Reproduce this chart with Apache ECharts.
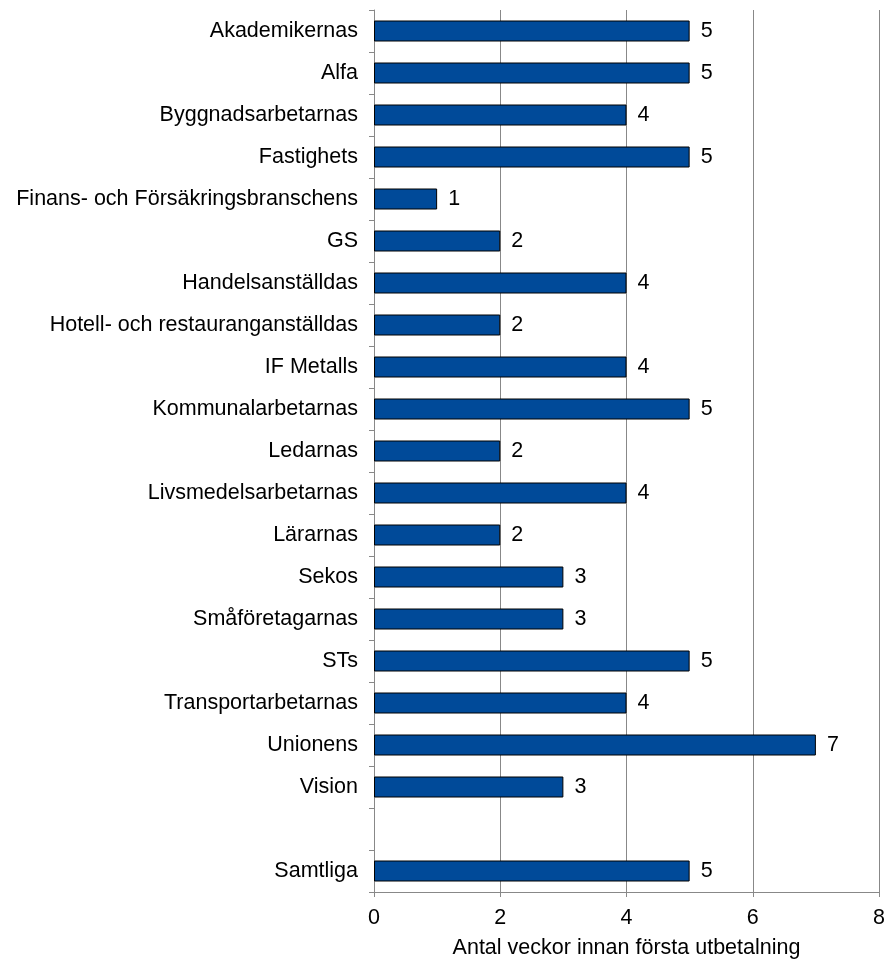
<!DOCTYPE html>
<html><head><meta charset="utf-8">
<script src="https://cdn.jsdelivr.net/npm/echarts@6/dist/echarts.min.js"></script>
<style>html,body{margin:0;padding:0;background:#fff}#c{width:885px;height:960px}</style>
</head><body><div id="c"></div>
<script>
const categories = ["Akademikernas","Alfa","Byggnadsarbetarnas","Fastighets","Finans- och Försäkringsbranschens","GS","Handelsanställdas","Hotell- och restauranganställdas","IF Metalls","Kommunalarbetarnas","Ledarnas","Livsmedelsarbetarnas","Lärarnas","Sekos","Småföretagarnas","STs","Transportarbetarnas","Unionens","Vision","","Samtliga"];
const values = [5,5,4,5,1,2,4,2,4,5,2,4,2,3,3,5,4,7,3,null,5];
const xTicks = {min:0, max:8, interval:2};
const xName = "Antal veckor innan första utbetalning";

const FS = 21.5;
const chart = echarts.init(document.getElementById('c'));
chart.setOption({
  animation:false,
  textStyle:{fontFamily:'Liberation Sans, Arial, sans-serif'},
  grid:{left:374,right:6,top:10,bottom:68,containLabel:false,outerBoundsMode:'none'},
  xAxis:{type:'value',min:xTicks.min,max:xTicks.max,interval:xTicks.interval,
    name:xName,nameLocation:'middle',nameGap:45,
    nameTextStyle:{fontSize:FS,color:'#000',fontFamily:'Liberation Sans, Arial, sans-serif'},
    axisLine:{show:true,lineStyle:{color:'#888',width:1}},
    axisTick:{show:true,length:5,lineStyle:{color:'#888'}},
    axisLabel:{fontSize:FS,color:'#000',margin:15},
    splitLine:{show:true,lineStyle:{color:'#888',width:1}}},
  yAxis:{type:'category',data:categories,inverse:true,
    axisLine:{show:true,lineStyle:{color:'#888',width:1}},
    axisTick:{show:true,length:5,lineStyle:{color:'#888'}},
    axisLabel:{fontSize:FS,color:'#000',margin:16,interval:0},
    splitLine:{show:false}},
  series:[{type:'bar',data:values,barWidth:21,
    itemStyle:{color:'#004a99',borderColor:'#000',borderWidth:1},
    label:{show:true,position:'right',distance:11,fontSize:FS,color:'#000'}}]
});
</script></body></html>
